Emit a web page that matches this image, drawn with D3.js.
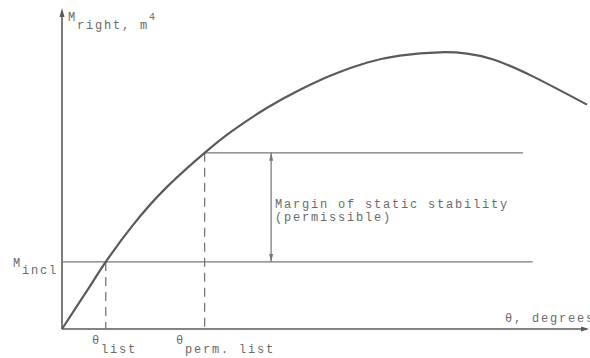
<!DOCTYPE html>
<html>

<script src="https://cdn.jsdelivr.net/npm/d3@7"></script>

<style>

  body, html {
    padding: 0;
    margin: 0;
    background: #fff;
  }

  svg {
    display: block;
  }

  text {
    font-family: "Liberation Mono", "DejaVu Sans Mono", monospace;
    font-size: 12px;
    letter-spacing: 1.8px;
    fill: #6a6a6a;
  }

</style>

<body>
  <svg width="590" height="358"></svg>

  <script>

    // righting moment curve (theta in degrees, moment in relative units)
    var curveTheta  = [0, 2.9, 5.0, 8.1, 12.0, 16.3, 19.5, 23.4, 27.2, 31.0, 34.9, 38.6, 43.2, 46.3, 49.3, 53.8, 60.0],
        curveMoment = [0, 0.14, 0.242, 0.375, 0.513, 0.636, 0.716, 0.798, 0.864, 0.919, 0.962, 0.987, 0.999, 0.994, 0.973, 0.912, 0.81];

    // key levels
    var thetaList = 5.0,
        thetaPerm = 16.3,
        mIncl = 0.242,
        mPerm = 0.636,
        marginTheta = 23.9,
        inclLineEnd = 53.8,
        permLineEnd = 52.7,
        xAxisEnd = 60.0,
        yAxisEnd = 1.159;

    var x = d3.scaleLinear().domain([0, 60]).range([62, 587]),
        y = d3.scaleLinear().domain([0, 1]).range([329, 52]);

    var svg = d3.select('svg');
    var ink = '#5a5a5a', thin = '#777';

    var points = curveTheta.map(function (t, i) { return [t, curveMoment[i]]; });

    // axes
    svg.append('line')
      .attr('x1', x(0)).attr('y1', y(0))
      .attr('x2', x(0)).attr('y2', y(yAxisEnd) + 4)
      .attr('stroke', ink).attr('stroke-width', 1.6);
    svg.append('path')
      .attr('d', 'M' + x(0) + ',' + y(yAxisEnd) + 'l-2.5,9h5z')
      .attr('fill', ink);

    svg.append('line')
      .attr('x1', x(0)).attr('y1', y(0))
      .attr('x2', x(xAxisEnd)).attr('y2', y(0))
      .attr('stroke', ink).attr('stroke-width', 1.6);
    svg.append('path')
      .attr('d', 'M' + (x(xAxisEnd) + 2) + ',' + y(0) + 'l-8,-2.5v5z')
      .attr('fill', ink);

    // horizontal levels
    svg.append('line')
      .attr('x1', x(0)).attr('y1', y(mIncl))
      .attr('x2', x(inclLineEnd)).attr('y2', y(mIncl))
      .attr('stroke', thin).attr('stroke-width', 1.3);
    svg.append('line')
      .attr('x1', x(thetaPerm)).attr('y1', y(mPerm))
      .attr('x2', x(permLineEnd)).attr('y2', y(mPerm))
      .attr('stroke', thin).attr('stroke-width', 1.3);

    // dashed drops
    [[thetaList, mIncl], [thetaPerm, mPerm]].forEach(function (d) {
      svg.append('line')
        .attr('x1', x(d[0])).attr('y1', y(d[1]))
        .attr('x2', x(d[0])).attr('y2', y(0))
        .attr('stroke', thin).attr('stroke-width', 1.3)
        .attr('stroke-dasharray', '9,6');
    });

    // margin arrow
    var mx = x(marginTheta);
    svg.append('line')
      .attr('x1', mx).attr('y1', y(mPerm))
      .attr('x2', mx).attr('y2', y(mIncl))
      .attr('stroke', thin).attr('stroke-width', 1.2);
    svg.append('path')
      .attr('d', 'M' + mx + ',' + y(mPerm) + 'l-2,8h4z' +
                 'M' + mx + ',' + y(mIncl) + 'l-2,-8h4z')
      .attr('fill', thin);

    // the curve
    svg.append('path')
      .datum(points)
      .attr('fill', 'none')
      .attr('stroke', ink)
      .attr('stroke-width', 2.2)
      .attr('d', d3.line()
        .x(function (d) { return x(d[0]); })
        .y(function (d) { return y(d[1]); })
        .curve(d3.curveNatural));

    // labels
    var t1 = svg.append('text').attr('x', 68).attr('y', 21);
    t1.append('tspan').text('M');
    t1.append('tspan').attr('dy', 8).text('right, m');
    t1.append('tspan').attr('dy', -9).attr('font-size', 10).text('4');

    var t2 = svg.append('text').attr('x', 13).attr('y', 267);
    t2.append('tspan').text('M');
    t2.append('tspan').attr('dy', 7).text('incl');

    var t3 = svg.append('text').attr('x', 92).attr('y', 344);
    t3.append('tspan').text('θ');
    t3.append('tspan').attr('dy', 9).text('list');

    var t4 = svg.append('text').attr('x', 176).attr('y', 344);
    t4.append('tspan').text('θ');
    t4.append('tspan').attr('dy', 9).text('perm. list');

    svg.append('text').attr('x', 505).attr('y', 322).text('θ, degrees');

    svg.append('text').attr('x', 275).attr('y', 208).text('Margin of static stability');
    svg.append('text').attr('x', 275).attr('y', 221).text('(permissible)');

  </script>
</body>
</html>
